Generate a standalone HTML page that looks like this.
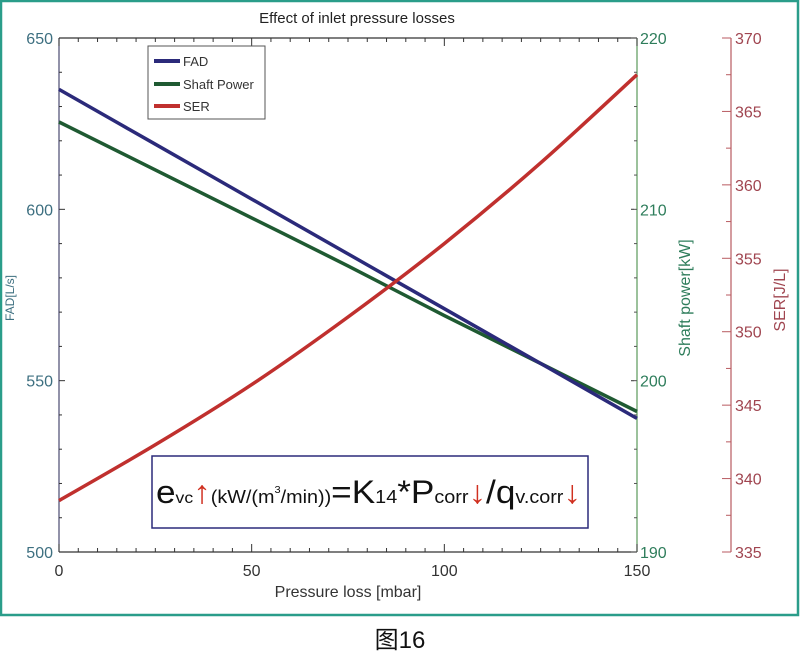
<!DOCTYPE html>
<html><head><meta charset="utf-8"><style>
body{margin:0;background:#fff;width:800px;height:654px;overflow:hidden}
svg text{font-family:"Liberation Sans","Noto Sans CJK SC",sans-serif}
</style></head><body>
<svg width="800" height="654" viewBox="0 0 800 654">
<rect x="1" y="1" width="797" height="614" fill="#fff" stroke="#2a9d8a" stroke-width="2.5"/>
<text x="357" y="23" font-size="15" text-anchor="middle" fill="#222">Effect of inlet pressure losses</text>
<g id="axes"></g>
<g id="series"></g>
<g>
<rect x="148" y="46" width="117" height="73" fill="#fff" stroke="#555" stroke-width="1"/>
<line x1="154" y1="61" x2="180" y2="61" stroke="#2b2a7a" stroke-width="4"/>
<text x="183" y="66" font-size="13" fill="#333">FAD</text>
<line x1="154" y1="84" x2="180" y2="84" stroke="#1f5a32" stroke-width="4"/>
<text x="183" y="89" font-size="13" fill="#333">Shaft Power</text>
<line x1="154" y1="106" x2="180" y2="106" stroke="#c0302e" stroke-width="4"/>
<text x="183" y="111" font-size="13" fill="#333">SER</text>
</g>
<g>
<rect x="152" y="456" width="436" height="72" fill="#fff" stroke="#2b2a7a" stroke-width="1.5"/>
<text x="156" y="503" font-size="32" fill="#111" textLength="425" lengthAdjust="spacingAndGlyphs">e<tspan font-size="16">vc</tspan><tspan fill="#d03020" font-weight="bold">↑</tspan><tspan font-size="18">(kW/(m</tspan><tspan font-size="10" dy="-10">3</tspan><tspan font-size="18" dy="10">/min))</tspan>=K<tspan font-size="18">14</tspan>*P<tspan font-size="18">corr</tspan><tspan fill="#d03020" font-weight="bold">↓</tspan>/q<tspan font-size="18">v.corr</tspan><tspan fill="#d03020" font-weight="bold">↓</tspan></text>
</g>
<text x="400" y="648" font-size="24" text-anchor="middle" fill="#111">图16</text>
</svg>
<script>
const xValues=[0,25,50,75,100,125,150];
const fadValues=[635,619,603,587,571,555,539];
const shaftValues=[215.1,212.3,209.5,206.7,203.8,201.0,198.2];
const serValues=[338.5,342.3,346.4,351.0,356.0,361.5,367.5];
const xTicks=[0,50,100,150];
const fadTicks=[500,550,600,650];
const shaftTicks=[190,200,210,220];
const serTicks=[335,340,345,350,355,360,365,370];
const L=59,R=637,T=38,B=552,RA=731;
const NS="http://www.w3.org/2000/svg";
const sx=v=>L+(v-0)/150*(R-L);
const sF=v=>B-(v-500)/150*(B-T);
const sS=v=>B-(v-190)/30*(B-T);
const sR=v=>B-(v-335)/35*(B-T);
const axes=document.getElementById('axes'),ser=document.getElementById('series');
function mk(tag,at,par,txt){const e=document.createElementNS(NS,tag);for(const k in at)e.setAttribute(k,at[k]);if(txt!==undefined)e.textContent=txt;par.appendChild(e);return e;}
function ln(x1,y1,x2,y2,c,w,par){return mk('line',{x1,y1,x2,y2,stroke:c,'stroke-width':w||1},par||axes);}
let a=ln(L,B,R,B,'#333',1.2);
a=ln(L,T,R,T,'#333',1.2);
a=ln(L,T,L,B,'#4a4a70',1.2);
a=ln(R,T,R,B,'#5a9a5a',1.2);
a=ln(RA,T,RA,B,'#b85a60',1.2);
for(let v=0;v<=150;v+=5){const x=sx(v),m=v%50===0?8:4;ln(x,B,x,B-m,'#333');ln(x,T,x,T+m,'#333');}
for(let v=500;v<=650;v+=10){const y=sF(v);ln(L,y,L+(v%50===0?6:3),y,'#333');}
for(let v=190;v<=220;v+=2){const y=sS(v);ln(R-3,y,R+(v%10===0?-6:0),y,'#555');if(v%10===0)ln(R-6,y,R,y,'#555');}
for(let v=335;v<=370;v+=2.5){const y=sR(v);ln(RA-(v%5===0?9:5),y,RA,y,'#b85a60');}
xTicks.forEach(v=>{const t=mk('text',{x:sx(v),y:B+24,'font-size':16,'text-anchor':'middle',fill:'#333'},axes,String(v));});
fadTicks.forEach(v=>{const t=mk('text',{x:L-6,y:sF(v)+6,'font-size':16,'text-anchor':'end',fill:'#3d6f80'},axes,String(v));});
shaftTicks.forEach(v=>{const t=mk('text',{x:R+3,y:sS(v)+6,'font-size':16,fill:'#2e7d5b'},axes,String(v));});
serTicks.forEach(v=>{const t=mk('text',{x:RA+4,y:sR(v)+6,'font-size':16,fill:'#a04550'},axes,String(v));});
let t=mk('text',{x:348,y:597,'font-size':16,'text-anchor':'middle',fill:'#333'},axes,'Pressure loss [mbar]');
t=mk('text',{x:0,y:0,'font-size':12,'text-anchor':'middle',fill:'#3d6f80',transform:'translate(14,298) rotate(-90)'},axes,'FAD[L/s]');
t=mk('text',{x:0,y:0,'font-size':16,'text-anchor':'middle',fill:'#2e7d5b',transform:'translate(690,298) rotate(-90)'},axes,'Shaft power[kW]');
t=mk('text',{x:0,y:0,'font-size':16,'text-anchor':'middle',fill:'#a04550',transform:'translate(785,300) rotate(-90)'},axes,'SER[J/L]');
function path(vals,sy,c,name){
  const P=vals.map((v,i)=>[sx(xValues[i]),sy(v)]);
  let d='M'+P[0][0].toFixed(1)+','+P[0][1].toFixed(1);
  for(let i=0;i<P.length-1;i++){
    const p0=P[Math.max(0,i-1)],p1=P[i],p2=P[i+1],p3=P[Math.min(P.length-1,i+2)];
    const c1=[p1[0]+(p2[0]-p0[0])/6,p1[1]+(p2[1]-p0[1])/6];
    const c2=[p2[0]-(p3[0]-p1[0])/6,p2[1]-(p3[1]-p1[1])/6];
    d+='C'+c1[0].toFixed(1)+','+c1[1].toFixed(1)+' '+c2[0].toFixed(1)+','+c2[1].toFixed(1)+' '+p2[0].toFixed(1)+','+p2[1].toFixed(1);
  }
  const p=mk('path',{d,fill:'none',stroke:c,'stroke-width':3.5},ser);
  
  
}
path(shaftValues,sS,'#1f5a32','shaft-power-line');
path(fadValues,sF,'#2b2a7a','fad-line');
path(serValues,sR,'#c0302e','ser-line');
</script>
</body></html>
